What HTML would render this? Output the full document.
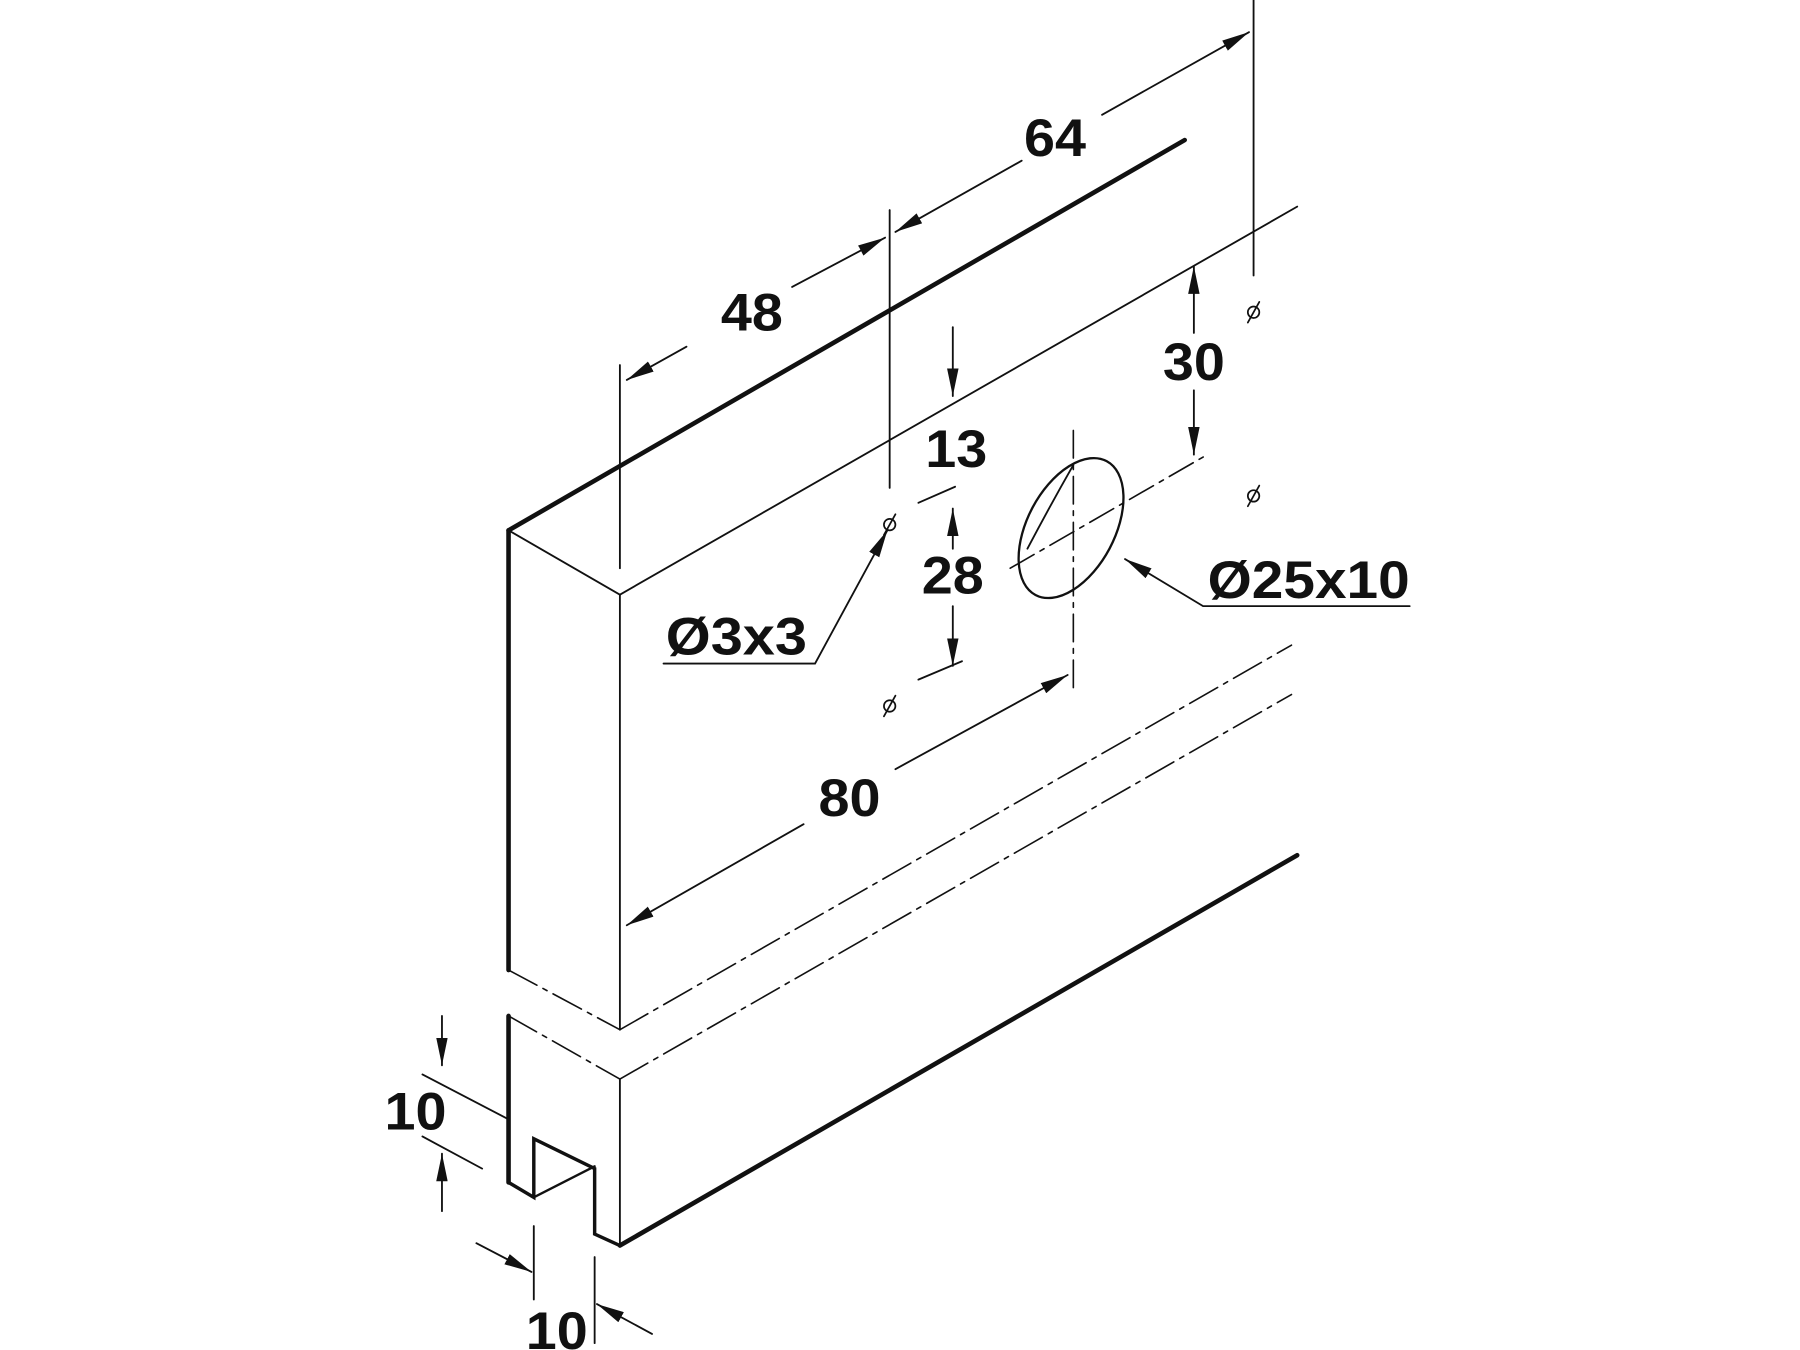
<!DOCTYPE html>
<html><head><meta charset="utf-8"><style>
html,body{margin:0;padding:0;background:#fff;}
svg{display:block}
text{font-family:"Liberation Sans",sans-serif;font-weight:bold;font-size:46px;fill:#111;}
</style></head><body>
<svg width="1800" height="1350" viewBox="0 0 1568 1176" preserveAspectRatio="none">
<defs>
<marker id="a" viewBox="0 0 24 10" refX="24" refY="5" markerWidth="24" markerHeight="10" markerUnits="userSpaceOnUse" orient="auto">
<path d="M0,0 L24,5 L0,10 z" fill="#111"/></marker>
</defs>
<g stroke="#111" fill="none" stroke-linecap="round">
<line x1="443" y1="462" x2="1032" y2="122" stroke-width="4"/>
<line x1="540" y1="518" x2="1130" y2="180" stroke-width="1.6"/>
<line x1="443" y1="462" x2="540" y2="518" stroke-width="1.6"/>
<line x1="443" y1="462" x2="443" y2="845" stroke-width="4"/>
<line x1="540" y1="518" x2="540" y2="897" stroke-width="1.6"/>
<g stroke-dasharray="28,6,4,6" stroke-width="1.4">
<line x1="443" y1="845" x2="540" y2="897"/>
<line x1="443" y1="885" x2="540" y2="940"/>
<line x1="540" y1="897" x2="1125" y2="562"/>
<line x1="540" y1="940" x2="1125" y2="605"/>
</g>
<line x1="443" y1="885" x2="443" y2="1030" stroke-width="4"/>
<line x1="540" y1="940" x2="540" y2="1085" stroke-width="1.6"/>
<line x1="540" y1="1085" x2="1130" y2="745" stroke-width="4"/>
<polyline points="443,1030 465,1043 465,992 518,1018 518,1075 540,1085" stroke-width="3"/>
<line x1="465" y1="1043" x2="518" y2="1016" stroke-width="2"/>
<ellipse cx="933" cy="460" rx="38" ry="66" transform="rotate(28 933 460)" stroke-width="2"/>
<path d="M935,405 Q915,440 895,478" stroke-width="1.6"/>
<g stroke-dasharray="24,6,4,6" stroke-width="1.4">
<line x1="935" y1="375" x2="935" y2="605"/>
<line x1="880" y1="495" x2="1050" y2="397"/>
</g>
<g stroke-width="1.5">
<circle cx="775" cy="457" r="5"/><line x1="770" y1="466" x2="780" y2="448"/>
<circle cx="775" cy="615" r="5"/><line x1="770" y1="624" x2="780" y2="606"/>
<circle cx="1092" cy="272" r="5"/><line x1="1087" y1="281" x2="1097" y2="263"/>
<circle cx="1092" cy="432" r="5"/><line x1="1087" y1="441" x2="1097" y2="423"/>
</g>
<g stroke-width="1.6">
<line x1="540" y1="318" x2="540" y2="495"/>
<line x1="775" y1="183" x2="775" y2="425"/>
<line x1="1092" y1="0" x2="1092" y2="240"/>
<line x1="598" y1="302" x2="546" y2="331" marker-end="url(#a)"/>
<line x1="690" y1="250" x2="771" y2="207" marker-end="url(#a)"/>
<line x1="890" y1="140" x2="780" y2="202" marker-end="url(#a)"/>
<line x1="960" y1="100" x2="1088" y2="28" marker-end="url(#a)"/>
<line x1="1040" y1="290" x2="1040" y2="232" marker-end="url(#a)"/>
<line x1="1040" y1="340" x2="1040" y2="396" marker-end="url(#a)"/>
<line x1="830" y1="285" x2="830" y2="345" marker-end="url(#a)"/>
<line x1="830" y1="478" x2="830" y2="443" marker-end="url(#a)"/>
<line x1="830" y1="528" x2="830" y2="580" marker-end="url(#a)"/>
<line x1="800" y1="438" x2="832" y2="424"/>
<line x1="800" y1="592" x2="838" y2="576"/>
<line x1="780" y1="670" x2="930" y2="588" marker-end="url(#a)"/>
<line x1="700" y1="718" x2="546" y2="806" marker-end="url(#a)"/>
<polyline points="578,578 710,578 773,462" marker-end="url(#a)"/>
<polyline points="1228,528 1048,528 980,487" marker-end="url(#a)"/>
<line x1="385" y1="885" x2="385" y2="928" marker-end="url(#a)"/>
<line x1="385" y1="1055" x2="385" y2="1005" marker-end="url(#a)"/>
<line x1="368" y1="936" x2="443" y2="975"/>
<line x1="368" y1="990" x2="420" y2="1018"/>
<line x1="465" y1="1068" x2="465" y2="1132"/>
<line x1="518" y1="1095" x2="518" y2="1170"/>
<line x1="415" y1="1083" x2="463" y2="1108" marker-end="url(#a)"/>
<line x1="568" y1="1162" x2="520" y2="1136" marker-end="url(#a)"/>
</g>
</g>
<text x="628" y="288" textLength="54" lengthAdjust="spacingAndGlyphs">48</text>
<text x="892" y="136" textLength="54" lengthAdjust="spacingAndGlyphs">64</text>
<text x="1013" y="331" textLength="54" lengthAdjust="spacingAndGlyphs">30</text>
<text x="806" y="407" textLength="54" lengthAdjust="spacingAndGlyphs">13</text>
<text x="803" y="517" textLength="54" lengthAdjust="spacingAndGlyphs">28</text>
<text x="713" y="711" textLength="54" lengthAdjust="spacingAndGlyphs">80</text>
<text x="580" y="570" textLength="123" lengthAdjust="spacingAndGlyphs">Ø3x3</text>
<text x="1052" y="521" textLength="176" lengthAdjust="spacingAndGlyphs">Ø25x10</text>
<text x="335" y="984" textLength="54" lengthAdjust="spacingAndGlyphs">10</text>
<text x="458" y="1175" textLength="54" lengthAdjust="spacingAndGlyphs">10</text>
</svg>
</body></html>
